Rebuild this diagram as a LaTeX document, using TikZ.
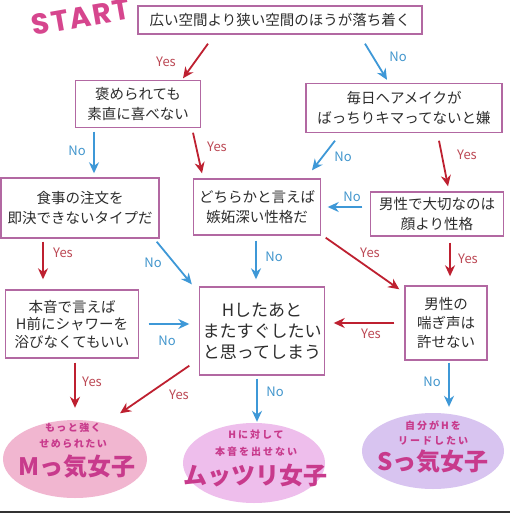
\documentclass[tikz,border=0pt]{standalone}
\usepackage{fontspec}
\setmainfont{Noto Sans CJK JP}
\newfontfamily\startfont{Poppins}
\usepackage{tikz}
\usetikzlibrary{arrows.meta, shapes.geometric}

\definecolor{boxline}{RGB}{178,104,162}
\definecolor{boxtext}{RGB}{45,45,45}
\definecolor{yesred}{RGB}{190,32,48}
\definecolor{noblue}{RGB}{62,152,215}
\definecolor{yestext}{RGB}{188,72,84}
\definecolor{notext}{RGB}{66,150,205}
\definecolor{startpink}{RGB}{214,70,142}
\definecolor{girlpink}{RGB}{200,58,140}
\definecolor{mfill}{RGB}{241,182,208}
\definecolor{mufill}{RGB}{238,190,236}
\definecolor{sfill}{RGB}{216,196,240}

\begin{document}
\begin{tikzpicture}[x=1pt, y=-1pt,
  box/.style={rectangle, draw=boxline, line width=1.4pt, align=center, inner sep=0pt, text=boxtext, font=\fontsize{14.5}{19.5}\selectfont},
  yesarrow/.style={-{Stealth[length=11pt, width=10pt]}, draw=yesred, line width=1.8pt},
  noarrow/.style={-{Stealth[length=11pt, width=10pt]}, draw=noblue, line width=1.8pt},
  yeslab/.style={text=yestext, font=\fontsize{13}{13}\selectfont},
  nolab/.style={text=notext, font=\fontsize{13}{13}\selectfont},
  girl/.style={ellipse, inner sep=0pt, minimum width=144pt, minimum height=78pt},
  girlsmall/.style={align=center, text=girlpink, font=\bfseries\fontsize{10}{15.5}\selectfont\addfontfeature{LetterSpace=15}},
  girlbig/.style={text=girlpink, font=\bfseries\fontsize{24}{24}\selectfont}
]
  \fill[white] (0,0) rectangle (510,513);
  \useasboundingbox (0,0) rectangle (510,513);

  \node[text=startpink, inner sep=0pt, font=\startfont\bfseries\fontsize{29}{29}\selectfont\addfontfeature{LetterSpace=6}, rotate=10] (start) at (81,17) {START};

  \node[box, minimum width=284pt, minimum height=28pt] (top) at (280,20) {広い空間より狭い空間のほうが落ち着く};
  \node[box, minimum width=125pt, minimum height=47pt] (praise) at (138,104) {褒められても\\素直に喜べない};
  \node[box, minimum width=196pt, minimum height=49pt] (hair) at (404,108) {毎日ヘアメイクが\\ばっちりキマってないと嫌};
  \node[box, minimum width=158pt, minimum height=60pt] (order) at (80,208) {食事の注文を\\即決できないタイプだ};
  \node[box, minimum width=127pt, minimum height=56pt] (jealous) at (257,207) {どちらかと言えば\\嫉妬深い性格だ};
  \node[box, minimum width=133pt, minimum height=44pt] (looks) at (437,214) {男性で大切なのは\\顔より性格};
  \node[box, minimum width=133pt, minimum height=68pt, font=\fontsize{14.5}{17.5}\selectfont] (shower) at (72,324) {本音で言えば\\H前にシャワーを\\浴びなくてもいい};
  \node[box, minimum width=125pt, minimum height=88pt, font=\fontsize{17}{21}\selectfont] (again) at (262,331) {Hしたあと\\またすぐしたい\\と思ってしまう};
  \node[box, minimum width=82pt, minimum height=74pt, font=\fontsize{14.5}{19}\selectfont] (moan) at (446,323) {男性の\\喘ぎ声は\\許せない};

  \node[girl, fill=mfill] (mgirl) at (75,459) {};
  \node[girl, fill=mufill, minimum width=142pt, minimum height=80pt] (mutsuri) at (254,463) {};
  \node[girl, fill=sfill, minimum width=142pt, minimum height=76pt] (sgirl) at (433,451) {};
  \node[girlsmall] (mgirlsub) at ([shift={(-2,-23.5)}]mgirl.center) {もっと強く\\せめられたい};
  \node[girlbig] (mgirlname) at ([shift={(2,8)}]mgirl.center) {Mっ気女子};
  \node[girlsmall, font=\bfseries\fontsize{10}{17}\selectfont\addfontfeature{LetterSpace=20}] (mutsurisub) at ([shift={(2,-19.5)}]mutsuri.center) {Hに対して\\本音を出せない};
  \node[girlbig] (mutsuriname) at ([shift={(1,12)}]mutsuri.center) {ムッツリ女子};
  \node[girlsmall, font=\bfseries\fontsize{10}{15}\selectfont\addfontfeature{LetterSpace=20}] (sgirlsub) at ([shift={(0,-18.5)}]sgirl.center) {自分がHを\\リードしたい};
  \node[girlbig] (sgirlname) at ([shift={(0,11)}]sgirl.center) {Sっ気女子};

  \draw[yesarrow] ([shift={(-72,9)}]top.south) -- ([shift={(45,-1.5)}]praise.north);
  \draw[noarrow] ([shift={(85,9)}]top.south) -- ([shift={(-17,-3)}]hair.north);
  \draw[noarrow] ([shift={(-44,3.5)}]praise.south) -- ([shift={(14,-4)}]order.north);
  \draw[yesarrow] ([shift={(55,4.5)}]praise.south) -- ([shift={(-55,-5)}]jealous.north);
  \draw[noarrow] ([shift={(-69,7.5)}]hair.south) -- ([shift={(55,-8)}]jealous.north);
  \draw[yesarrow] ([shift={(35,7.5)}]hair.south) -- ([shift={(11,-5)}]looks.north);
  \draw[noarrow] ([shift={(-7.5,-7)}]looks.west) -- ([shift={(6.5,0)}]jealous.east);
  \draw[yesarrow] ([shift={(-37,3)}]order.south) -- ([shift={(-29,-10)}]shower.north);
  \draw[noarrow] ([shift={(-3,3)}]order.south east) -- ([shift={(-7,-2)}]again.north west);
  \draw[noarrow] ([shift={(-1,5)}]jealous.south) -- ([shift={(-6,-7)}]again.north);
  \draw[yesarrow] ([shift={(4.5,2)}]jealous.south east) -- ([shift={(-5,4)}]moan.north west);
  \draw[yesarrow] ([shift={(13,6)}]looks.south) -- ([shift={(4,-9)}]moan.north);
  \draw[noarrow] ([shift={(9.5,0)}]shower.east) -- ([shift={(-9.5,-7)}]again.west);
  \draw[yesarrow] ([shift={(-10,0)}]moan.west) -- ([shift={(8.5,-8)}]again.east);
  \draw[yesarrow] ([shift={(3,4)}]shower.south) -- ([shift={(0,-12)}]mgirl.north);
  \draw[yesarrow] ([shift={(-9.5,-10)}]again.south west) -- ([shift={(-6,-18)}]mgirl.north east);
  \draw[noarrow] ([shift={(-5,3)}]again.south) -- ([shift={(3,-1)}]mutsuri.north);
  \draw[noarrow] ([shift={(3,2)}]moan.south) -- ([shift={(16,-6)}]sgirl.north);

  \node[yeslab] (y1) at (166,62) {Yes};
  \node[nolab] (n1) at (398,57) {No};
  \node[nolab] (n2) at (77,151) {No};
  \node[yeslab] (y2) at (217,147) {Yes};
  \node[nolab] (n3) at (343,157) {No};
  \node[yeslab] (y3) at (467,155) {Yes};
  \node[nolab] (n4) at (352,197) {No};
  \node[yeslab] (y4) at (63,253) {Yes};
  \node[nolab] (n5) at (153,263) {No};
  \node[nolab] (n6) at (274,257) {No};
  \node[yeslab] (y5) at (370,253) {Yes};
  \node[yeslab] (y6) at (468,259) {Yes};
  \node[nolab] (n7) at (167,341) {No};
  \node[yeslab] (y7) at (371,334) {Yes};
  \node[yeslab] (y8) at (92,382) {Yes};
  \node[yeslab] (y9) at (179,395) {Yes};
  \node[nolab] (n8) at (275,392) {No};
  \node[nolab] (n9) at (432,382) {No};

  \draw[line width=2pt, black!80] (0,512) -- (510,512);
\end{tikzpicture}
\end{document}
